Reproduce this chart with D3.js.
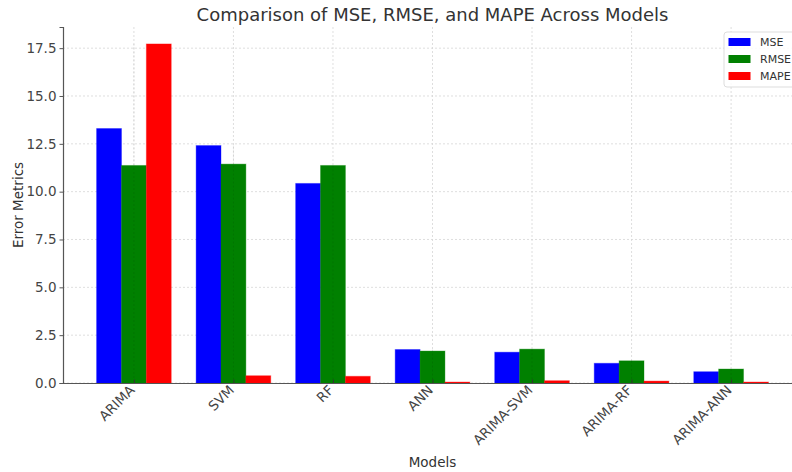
<!DOCTYPE html>
<html>
<head>
<meta charset="utf-8">
<script src="https://cdn.jsdelivr.net/npm/d3@7"></script>
<style>
  body { margin: 0; background: #fff; }
  svg { display: block; font-family: "DejaVu Sans", sans-serif; }
</style>
</head>
<body>
<div id="chart"></div>
<script>
// values
const models = ["ARIMA", "SVM", "RF", "ANN", "ARIMA-SVM", "ARIMA-RF", "ARIMA-ANN"];
const mse  = [13.30, 12.41, 10.43, 1.75, 1.61, 1.03, 0.59];
const rmse = [11.37, 11.44, 11.37, 1.67, 1.77, 1.16, 0.73];
const mape = [17.72, 0.38, 0.35, 0.05, 0.12, 0.10, 0.05];
const seriesNames = ["MSE", "RMSE", "MAPE"];
const yTicks = [0, 2.5, 5, 7.5, 10, 12.5, 15, 17.5];

const series = [mse, rmse, mape];
const colors = ["#0000ff", "#008000", "#ff0000"];

const width = 792, height = 472;
const margin = { top: 27, right: -10, bottom: 89, left: 63 };
const plotW = width - margin.left - margin.right;
const plotH = height - margin.top - margin.bottom;

const svg = d3.select("#chart")
  .append("svg")
  .attr("width", width)
  .attr("height", height);

const g = svg.append("g")
  .attr("transform", `translate(${margin.left},${margin.top})`);

// matplotlib style numeric x axis: bar width 0.25, 5% margins
const barW = 0.25;
const xSpan = (models.length - 1) + 3 * barW;
const x = d3.scaleLinear()
  .domain([-1.5 * barW - 0.05 * xSpan, models.length - 1 + 1.5 * barW + 0.05 * xSpan])
  .range([0, plotW]);

const yMax = d3.max(series.flat()) * 1.05;
const y = d3.scaleLinear()
  .domain([0, yMax])
  .range([plotH, 0]);

// grid
g.append("g")
  .selectAll("line")
  .data(yTicks)
  .enter()
  .append("line")
  .attr("x1", 0)
  .attr("x2", plotW)
  .attr("y1", d => y(d))
  .attr("y2", d => y(d))
  .attr("stroke", "#d6d6d6")
  .attr("stroke-width", 0.8)
  .attr("stroke-dasharray", "2,2");

g.append("g")
  .selectAll("line")
  .data(models.map((m, i) => i))
  .enter()
  .append("line")
  .attr("x1", d => x(d))
  .attr("x2", d => x(d))
  .attr("y1", 0)
  .attr("y2", plotH)
  .attr("stroke", "#d6d6d6")
  .attr("stroke-width", 0.8)
  .attr("stroke-dasharray", "2,2");

// bars
series.forEach((vals, s) => {
  g.append("g")
    .selectAll("rect")
    .data(vals)
    .enter()
    .append("rect")
    .attr("x", (d, i) => x(i + (s - 1) * barW - barW / 2))
    .attr("width", x(barW) - x(0))
    .attr("y", d => y(d))
    .attr("height", d => plotH - y(d))
    .attr("fill", colors[s])
    .attr("stroke", colors[s])
    .attr("stroke-opacity", 0.35)
    .attr("stroke-width", 1);
});

// grid lines show faintly over the bars in the reference
g.append("g")
  .selectAll("line")
  .data(models.map((m, i) => i))
  .enter()
  .append("line")
  .attr("x1", d => x(d))
  .attr("x2", d => x(d))
  .attr("y1", d => y(d3.max(series, v => v[d])))
  .attr("y2", plotH)
  .attr("stroke", "#000")
  .attr("stroke-opacity", 0.12)
  .attr("stroke-width", 0.8)
  .attr("stroke-dasharray", "2,2");

// axes
const yAxis = d3.axisLeft(y)
  .tickValues(yTicks)
  .tickFormat(d3.format(".1f"))
  .tickSize(3.5)
  .tickPadding(3);

const yG = g.append("g").call(yAxis);
yG.select(".domain").attr("stroke", "#555").attr("stroke-width", 1.2);
yG.selectAll(".tick line").attr("stroke", "#555");
yG.selectAll(".tick text")
  .attr("fill", "#444")
  .style("font-size", "13.5px")
  .style("font-family", "DejaVu Sans");

const xAxis = d3.axisBottom(x)
  .tickValues(models.map((m, i) => i))
  .tickFormat(i => models[i])
  .tickSizeInner(-3.5)
  .tickSizeOuter(0);

const xG = g.append("g")
  .attr("transform", `translate(0,${plotH})`)
  .call(xAxis);
xG.select(".domain").attr("stroke", "#555").attr("stroke-width", 1.2);
xG.selectAll(".tick line").attr("stroke", "#333");
xG.selectAll(".tick text")
  .attr("fill", "#444")
  .style("font-size", "13.5px")
  .style("font-family", "DejaVu Sans")
  .attr("text-anchor", "end")
  .attr("y", 0)
  .attr("dy", 0)
  .attr("transform", "translate(1,8) rotate(-45)");

// title and labels
svg.append("text")
  .attr("x", margin.left + plotW / 2)
  .attr("y", 21)
  .attr("text-anchor", "middle")
  .attr("fill", "#333")
  .style("font-size", "18px")
  .text("Comparison of MSE, RMSE, and MAPE Across Models");

svg.append("text")
  .attr("x", margin.left + plotW / 2)
  .attr("y", 467)
  .attr("text-anchor", "middle")
  .attr("fill", "#333")
  .style("font-size", "13.5px")
  .text("Models");

svg.append("text")
  .attr("transform", `translate(23,${margin.top + plotH / 2}) rotate(-90)`)
  .attr("text-anchor", "middle")
  .attr("fill", "#333")
  .style("font-size", "13.5px")
  .text("Error Metrics");

// legend
const legend = svg.append("g")
  .attr("transform", "translate(724,32)");

legend.append("rect")
  .attr("x", 0)
  .attr("y", 0)
  .attr("width", 90)
  .attr("height", 55)
  .attr("rx", 3)
  .attr("fill", "#fff")
  .attr("fill-opacity", 0.85)
  .attr("stroke", "#ddd");

seriesNames.forEach((name, i) => {
  const yOff = 10 + i * 17;
  legend.append("rect")
    .attr("x", 4.5)
    .attr("y", yOff - 4)
    .attr("width", 22)
    .attr("height", 8)
    .attr("fill", colors[i]);
  legend.append("text")
    .attr("x", 36)
    .attr("y", yOff + 4)
    .attr("fill", "#333")
    .style("font-size", "11px")
    .text(name);
});
</script>
</body>
</html>
